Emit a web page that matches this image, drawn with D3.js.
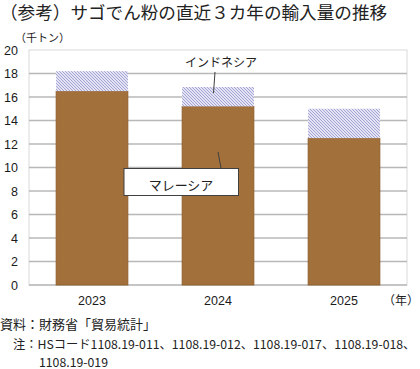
<!DOCTYPE html>
<html><head><meta charset="utf-8">
<script src="https://cdn.jsdelivr.net/npm/d3@7"></script>
<style>
body{margin:0;background:#fff;}
svg{display:block;}
</style></head>
<body>
<svg id="c" width="420" height="369"></svg>
<script>
const years = ["2023", "2024", "2025"];
const malaysia = [16.5, 15.2, 12.5];
const indonesia = [1.7, 1.65, 2.5];
const yTicks = [0, 2, 4, 6, 8, 10, 12, 14, 16, 18, 20];
const seriesNames = ["マレーシア", "インドネシア"];

const svg = d3.select("#c");
const jp = "'Noto Sans CJK JP', sans-serif";
const num = "'Liberation Sans', Arial, sans-serif";

const plot = {l: 29, r: 407, t: 50, b: 285};
const x = d3.scaleBand().domain(years).range([plot.l, plot.r]).paddingInner(0.43).paddingOuter(0.215);
const y = d3.scaleLinear().domain([0, 20]).range([plot.b, plot.t]);

// hatch pattern
const defs = svg.append("defs");
const pat = defs.append("pattern").attr("id", "hatch").attr("patternUnits", "userSpaceOnUse")
  .attr("width", 3).attr("height", 3);
pat.append("rect").attr("width", 3).attr("height", 3).attr("fill", "#ffffff");
pat.append("path").attr("d", "M-1,-1 L4,4 M-1,2 L1,4 M2,-1 L4,1")
  .attr("stroke", "#9d9dd4").attr("stroke-width", 1.05);

// title
svg.append("text").attr("x", 0).attr("y", 18.5).attr("font-family", jp).attr("font-size", 17.6)
  .attr("font-weight", 400).attr("fill", "#222").text("（参考）サゴでん粉の直近３カ年の輸入量の推移");

svg.append("text").attr("x", 15).attr("y", 42).attr("font-family", jp).attr("font-size", 11)
  .attr("fill", "#222").text("（千トン）");

// plot border
svg.append("rect").attr("x", plot.l).attr("y", plot.t).attr("width", plot.r - plot.l).attr("height", plot.b - plot.t)
  .attr("fill", "none").attr("stroke", "#d9d9d9").attr("stroke-width", 1);

// gridlines
svg.append("g").selectAll("line").data(yTicks.filter(d => d > 0 && d < 20)).join("line")
  .attr("x1", plot.l).attr("x2", plot.r).attr("y1", d => y(d)).attr("y2", d => y(d))
  .attr("stroke", "#b8b8b8").attr("stroke-width", 1.3);
svg.append("line").attr("x1", plot.l).attr("x2", plot.r).attr("y1", y(0)).attr("y2", y(0))
  .attr("stroke", "#b8b8b8").attr("stroke-width", 1.3);

// y axis labels
const yAxis = d3.axisLeft(y).tickValues(yTicks).tickSize(0).tickPadding(0);
const yg = svg.append("g").attr("transform", `translate(18,0)`).call(yAxis);
yg.select(".domain").remove();
yg.selectAll("text").attr("font-family", num).attr("font-size", 12.5).attr("fill", "#1a1a1a");

// bars
const g = svg.append("g");
g.selectAll("rect.m").data(years).join("rect").attr("class", "m")
  .attr("x", d => x(d)).attr("width", x.bandwidth())
  .attr("y", (d, i) => y(malaysia[i])).attr("height", (d, i) => y(0) - y(malaysia[i]))
  .attr("fill", "#a2703a").attr("stroke", "#8d5c2a").attr("stroke-width", 0.8);
g.selectAll("rect.i").data(years).join("rect").attr("class", "i")
  .attr("x", d => x(d)).attr("width", x.bandwidth())
  .attr("y", (d, i) => y(malaysia[i] + indonesia[i])).attr("height", (d, i) => y(malaysia[i]) - y(malaysia[i] + indonesia[i]))
  .attr("fill", "url(#hatch)");

// x axis labels
const xAxis = d3.axisBottom(x).tickSize(0).tickPadding(0);
const xg = svg.append("g").attr("transform", `translate(0,305)`).call(xAxis);
xg.select(".domain").remove();
xg.selectAll("text").attr("dy", 0).attr("font-family", num).attr("font-size", 12.5).attr("fill", "#1a1a1a");

svg.append("text").attr("x", 419).attr("y", 305).attr("text-anchor", "end").attr("font-family", jp)
  .attr("font-size", 12).attr("fill", "#222").text("（年）");

// series labels
svg.append("line").attr("x1", 215).attr("y1", 72).attr("x2", 213.5).attr("y2", 93)
  .attr("stroke", "#404040").attr("stroke-width", 1);
svg.append("text").attr("x", 221).attr("y", 67).attr("text-anchor", "middle").attr("font-family", jp)
  .attr("font-size", 12).attr("fill", "#222").text(seriesNames[1]);

svg.append("line").attr("x1", 218).attr("y1", 152).attr("x2", 221).attr("y2", 168)
  .attr("stroke", "#404040").attr("stroke-width", 1);
svg.append("rect").attr("x", 124).attr("y", 168.5).attr("width", 114.5).attr("height", 27)
  .attr("fill", "#fff").attr("stroke", "#404040").attr("stroke-width", 1);
svg.append("text").attr("x", 181).attr("y", 189.5).attr("text-anchor", "middle").attr("font-family", jp)
  .attr("font-size", 13).attr("fill", "#222").text(seriesNames[0]);

// footnotes
svg.append("text").attr("x", 0).attr("y", 329).attr("font-family", jp).attr("font-size", 13)
  .attr("fill", "#222").text("資料：財務省「貿易統計」");
const note = svg.append("text").attr("x", 13).attr("y", 348.5).attr("font-family", jp).attr("font-size", 12.5)
  .attr("fill", "#222")
  .text("注：HSコード1108.19-011、1108.19-012、1108.19-017、1108.19-018、");
const w = note.node().getComputedTextLength();
const fs = Math.min(12.5, 12.5 * 403 / w);
note.attr("font-size", fs);
svg.append("text").attr("x", 39).attr("y", 366.5).attr("font-family", jp).attr("font-size", fs)
  .attr("fill", "#222").text("1108.19-019");
</script>
</body></html>
